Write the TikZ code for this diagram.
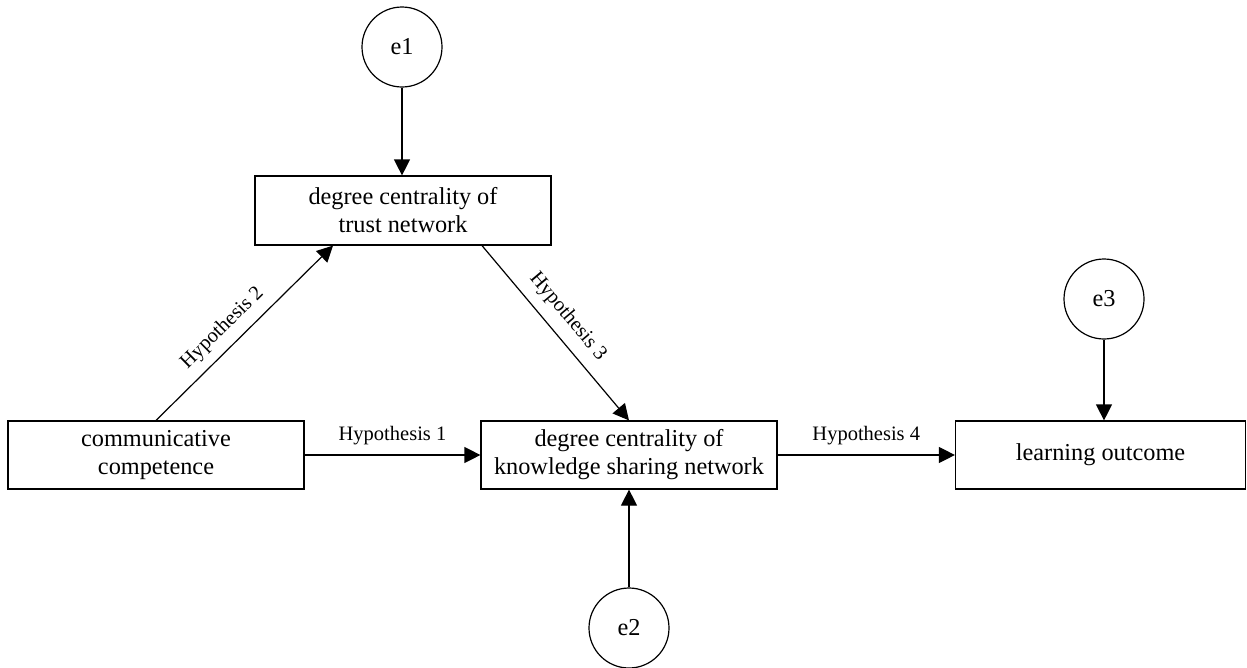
\documentclass[tikz,border=0pt]{standalone}
\usepackage{fontspec}
\setmainfont{Liberation Serif}
\usetikzlibrary{arrows.meta}
\begin{document}
\begin{tikzpicture}[x=1pt,y=-1pt,
  box/.style={draw,line width=1.2pt,inner sep=0pt,align=center,
    font=\fontsize{24.3}{28}\selectfont},
  err/.style={draw,circle,line width=1.2pt,minimum size=80pt,inner sep=0pt,
    font=\fontsize{24.3}{28}\selectfont},
  arr/.style={line width=1.2pt,-{Triangle[length=16pt,width=16pt]}},
  hyp/.style={font=\fontsize{20.5}{24}\selectfont,inner sep=0pt}]
\useasboundingbox (0,0) rectangle (1247,667);
\node[box,minimum width=296pt,minimum height=69pt] (trust) at (403,210.5) {degree centrality of\\trust network};
\node[box,minimum width=296pt,minimum height=68pt] (comm) at (156,455) {communicative\\competence};
\node[box,minimum width=296pt,minimum height=68pt] (ks) at (629,455) {degree centrality of\\knowledge sharing network};
\node[box,minimum width=290pt,minimum height=68pt] (learn) at (1100.5,455) {learning outcome};
\node[err] (e1) at (402,47) {e1};
\node[err] (e2) at (629,628) {e2};
\node[err] (e3) at (1104,299) {e3};
\draw[arr] (e1.south) -- (e1.south |- trust.north);
\draw[arr] (e3.south) -- (e3.south |- learn.north);
\draw[arr] (e2.north) -- (e2.north |- ks.south);
\draw[arr] (comm.east) -- node[hyp,above=9pt]{Hypothesis 1} (ks.west);
\draw[arr] (ks.east) -- node[hyp,above=9pt]{Hypothesis 4} (learn.west);
\draw[arr] (comm.north) -- node[hyp,sloped,above=9pt,pos=0.45]{Hypothesis 2} ([xshift=-70pt]trust.south);
\draw[arr] ([xshift=79pt]trust.south) -- node[hyp,sloped,above=10pt,pos=0.48]{Hypothesis 3} (ks.north);
\end{tikzpicture}
\end{document}
